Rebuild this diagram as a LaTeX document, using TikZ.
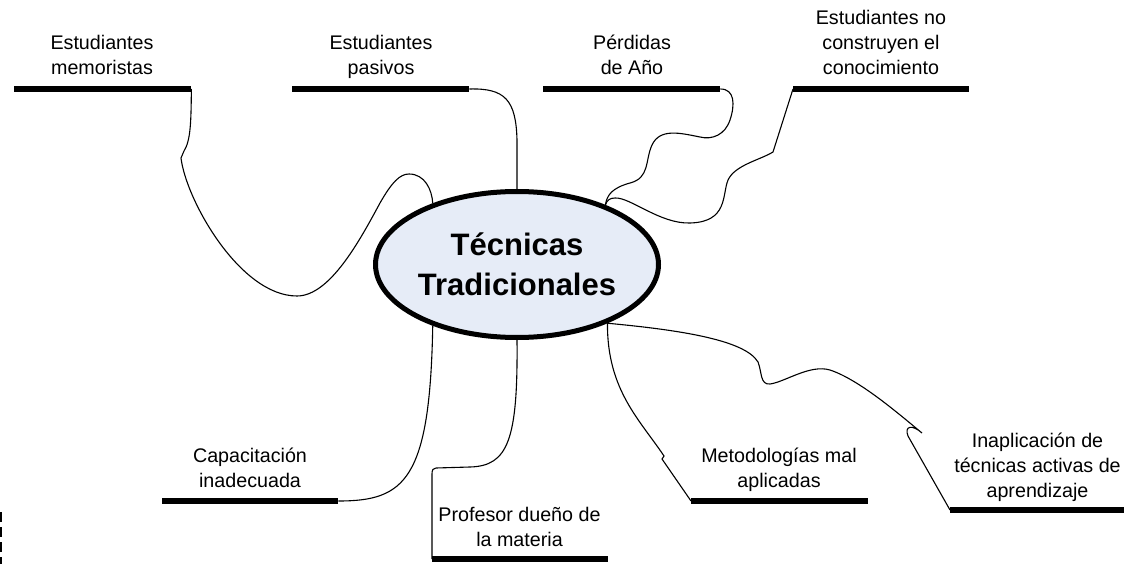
\documentclass[tikz,border=0pt]{standalone}
\usepackage{fontspec}
\setmainfont{Liberation Sans}
\usetikzlibrary{shapes.geometric}
\definecolor{ellfill}{RGB}{230,236,247}
\begin{document}
\begin{tikzpicture}[x=1pt,y=-1pt,
  bar/.style={fill=black, inner sep=0pt, minimum height=6pt, anchor=west, rectangle},
  lbl/.style={align=center, font=\fontsize{19.7}{25}\selectfont, anchor=base, inner sep=0pt},
  link/.style={line width=1.1pt, black}]
\useasboundingbox (0,0) rectangle (1124,564);

% central ellipse
\node[ellipse, draw, line width=5pt, fill=ellfill, minimum width=283pt, minimum height=146pt,
      inner sep=0pt, align=center, font=\bfseries\fontsize{31}{40}\selectfont] (c) at (517,264.5)
      {\raisebox{-2pt}{Técnicas}\\\raisebox{-2pt}{Tradicionales}};

% bars
\node[bar, minimum width=177pt] (b1) at (14,89) {};
\node[bar, minimum width=177pt] (b2) at (292,89) {};
\node[bar, minimum width=177pt] (b3) at (543,89) {};
\node[bar, minimum width=176pt] (b4) at (793,89) {};
\node[bar, minimum width=176pt] (b5) at (162,501) {};
\node[bar, minimum width=176pt] (b6) at (432,559) {};
\node[bar, minimum width=177pt] (b7) at (691,501) {};
\node[bar, minimum width=174pt] (b8) at (950,510) {};

% labels (anchor = baseline of last line)
\node[lbl] (t1) at (102,75) {Estudiantes\\memoristas};
\node[lbl] (t2) at (381,75) {Estudiantes\\pasivos};
\node[lbl] (t3) at (632,75) {Pérdidas\\de Año};
\node[lbl] (t4) at (881,75) {Estudiantes no\\construyen el\\conocimiento};
\node[lbl] (t5) at (250,487) {Capacitación\\inadecuada};
\node[lbl] (t6) at (519.5,546) {Profesor dueño de\\la materia};
\node[lbl] (t7) at (779,487) {Metodologías mal\\aplicadas};
\node[lbl] (t8) at (1037.5,497) {Inaplicación de\\técnicas activas de\\aprendizaje};

% connectors
\draw[link] (b1.east) .. controls (191,120) and (191,140) .. (184,151) -- (181,158)
  .. controls (186,200) and (240,296) .. (297,296)
  .. controls (330,296) and (360,240) .. (380,203)
  .. controls (392,182) and (400,174) .. (409,174)
  .. controls (425,174) and (432,190) .. (c.144);
\draw[link] (b2.east) .. controls (505,88) and (516,100) .. (517,140) -- (c.90);
\draw[link] (b3.east) .. controls (735,89) and (735,105) .. (730,120)
  .. controls (725,135) and (712,140) .. (700,137)
  .. controls (680,133) and (660,128) .. (652,145)
  .. controls (645,160) and (650,178) .. (630,183)
  .. controls (612,188) and (607,195) .. (c.34.6);
\draw[link] (b4.west) -- (773,152)
  .. controls (760,160) and (735,165) .. (728,180)
  .. controls (722,195) and (728,222) .. (690,223)
  .. controls (660,224) and (630,197) .. (615,198)
  .. controls (610,198) and (607,200) .. (c.34.6);
\draw[link] (c.216.5) .. controls (430,480) and (405,501) .. (b5.east);
\draw[link] (c.270) .. controls (518,440) and (508,466) .. (470,467) -- (436,468)
  .. controls (433,468) and (432,470) .. (432,474) -- (b6.west);
\draw[link] (c.-33.9) .. controls (607,390) and (640,420) .. (664,456) -- (662,459) -- (b7.west);
\draw[link] (c.-33.9) .. controls (680,330) and (745,340) .. (758,362)
  .. controls (762,372) and (760,385) .. (770,384)
  .. controls (785,382) and (810,364) .. (830,370)
  .. controls (860,380) and (900,415) .. (922,433)
  .. controls (912,424) and (904,426) .. (908,436) -- (b8.west);

% edge mark
\draw[line width=2pt, dash pattern=on 10pt off 5pt] (1,512) -- (1,564);
\end{tikzpicture}
\end{document}
